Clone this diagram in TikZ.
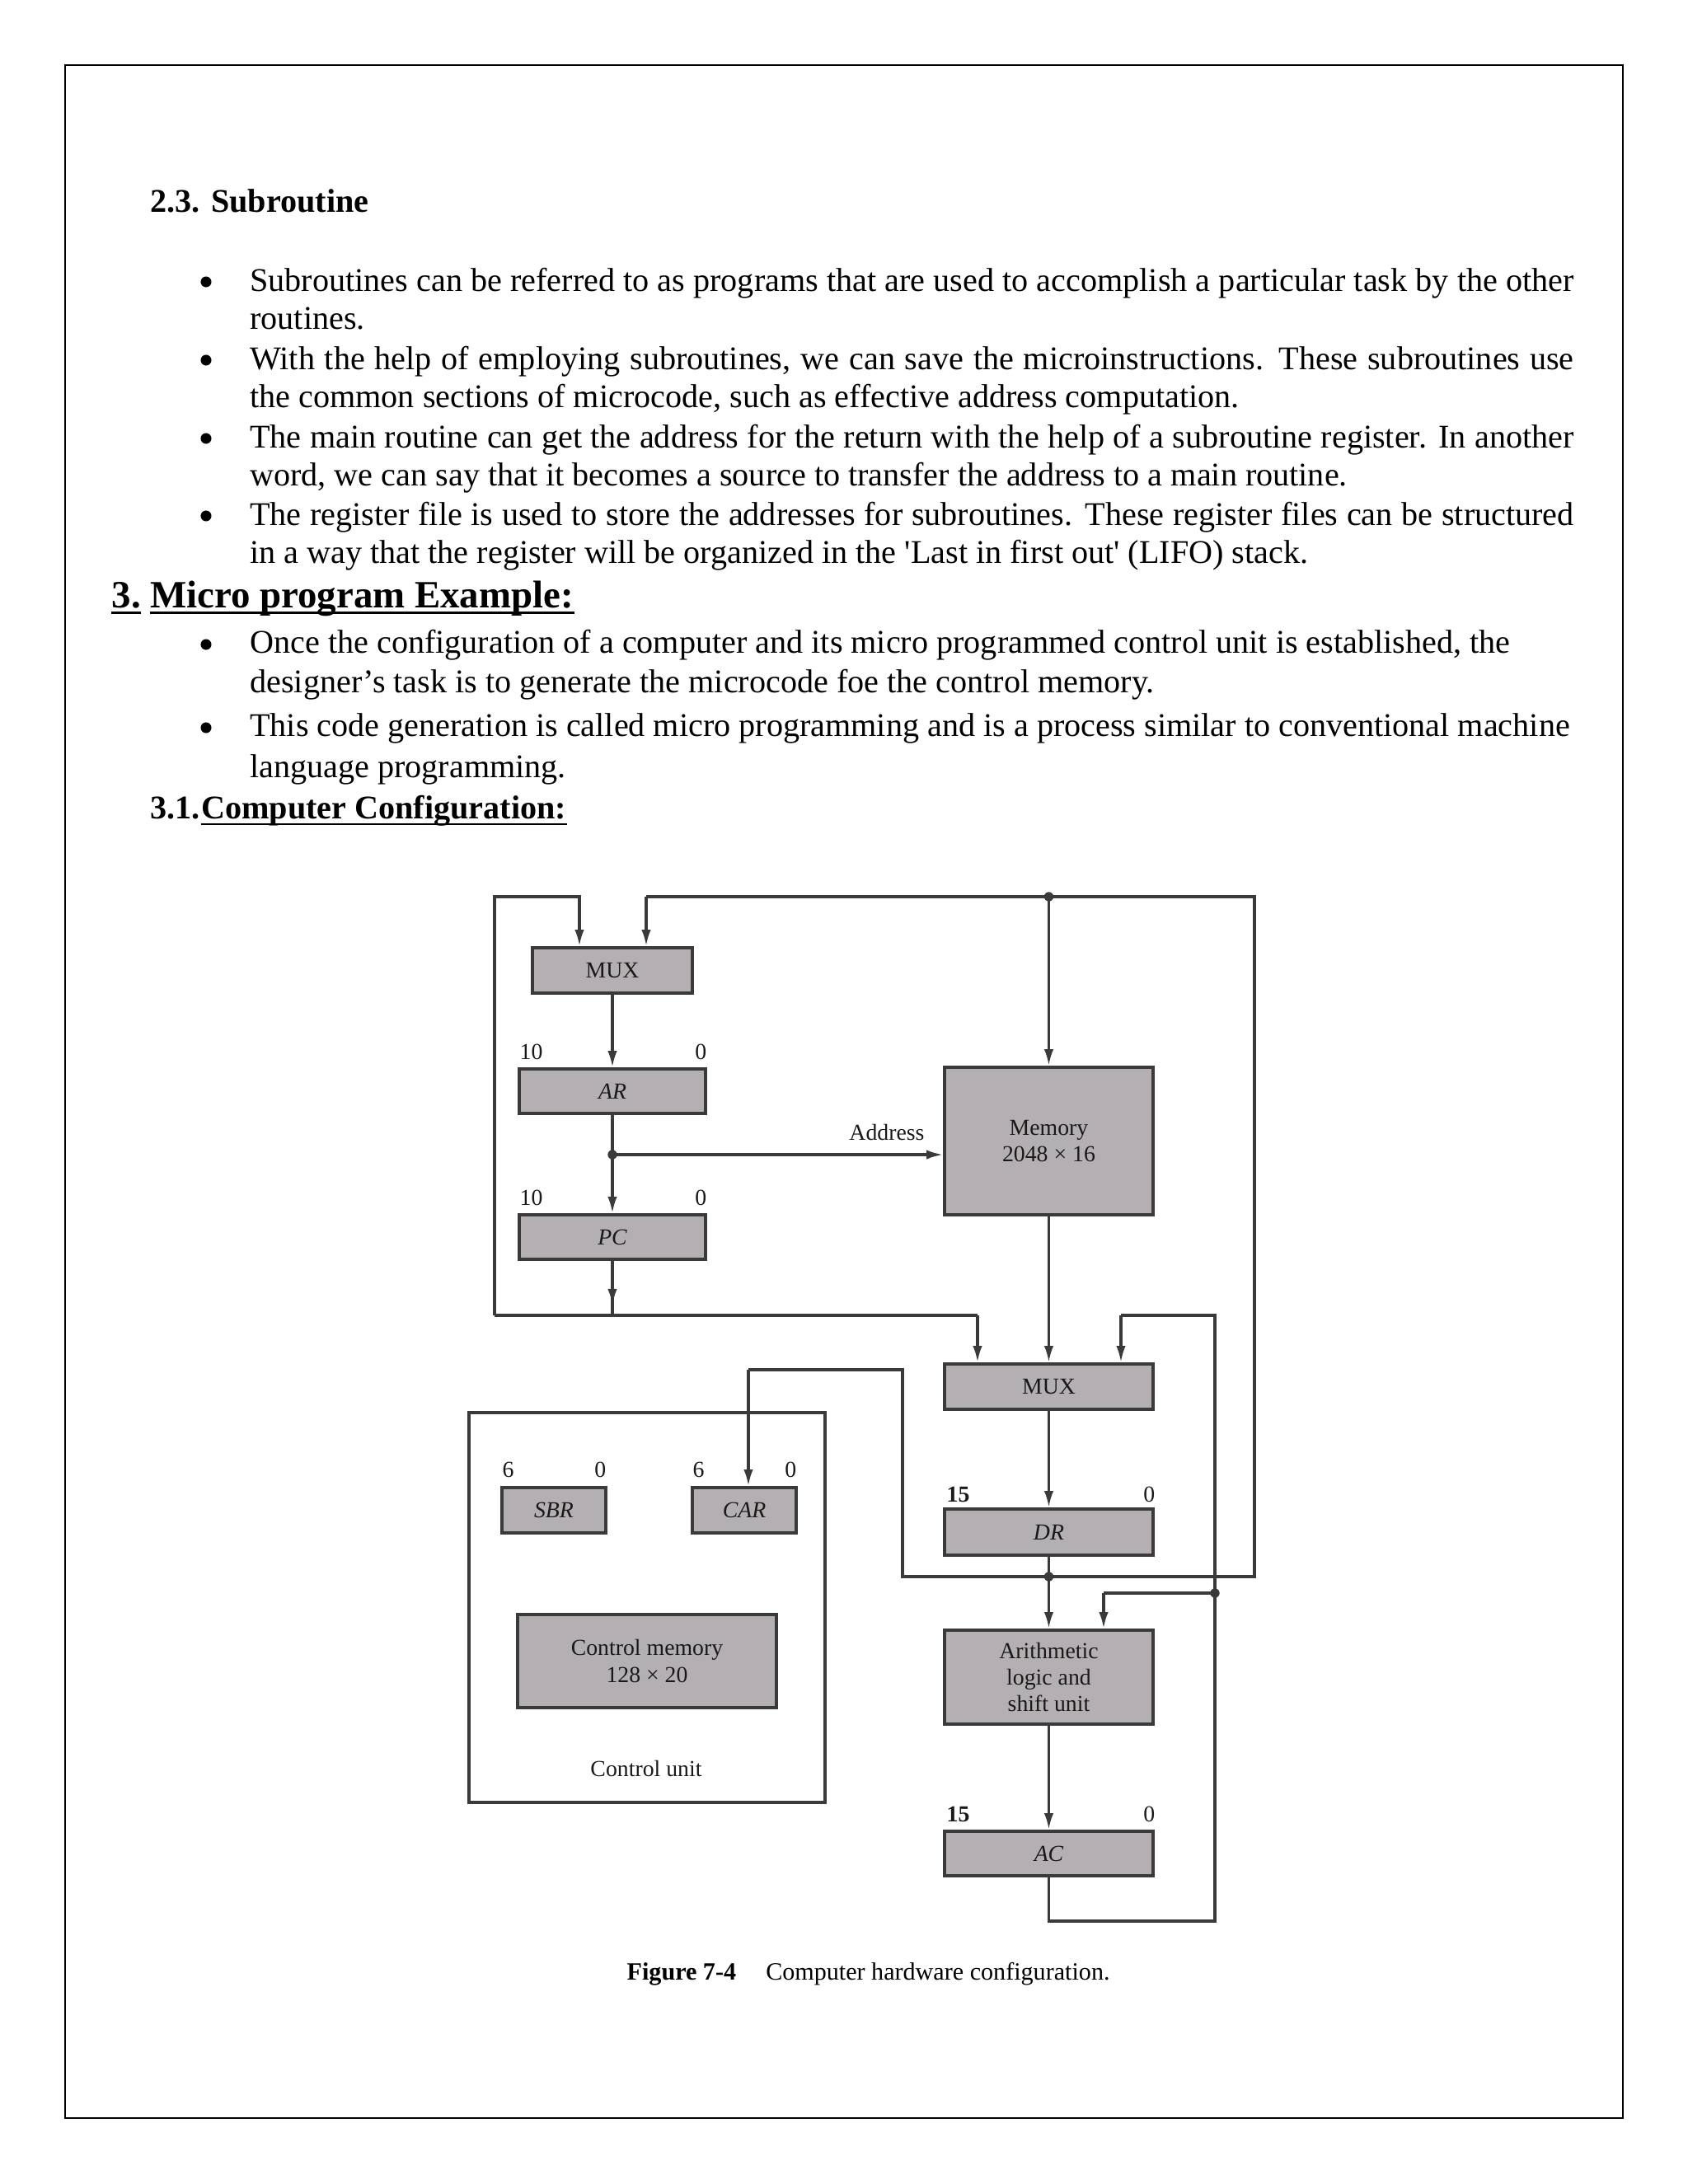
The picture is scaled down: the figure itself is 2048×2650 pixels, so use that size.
\documentclass[tikz,border=0pt]{standalone}
\usepackage{fontspec}
\setmainfont{Liberation Serif}
\usetikzlibrary{arrows.meta}
\definecolor{boxgray}{RGB}{180,175,178}
\definecolor{wire}{RGB}{58,58,58}
\begin{document}
\begin{tikzpicture}[x=0.29883pt,y=-0.29883pt,
  txt/.style={inner sep=0pt, anchor=base west, font=\fontsize{12}{14}\selectfont},
  reg/.style={draw=wire, line width=1.1pt, fill=boxgray, inner sep=0pt, font=\fontsize{8.3}{9.6}\selectfont, align=center, text=black!90},
  wireln/.style={draw=wire, line width=0.95pt},
  arr/.style={wireln, -{Latex[length=6pt,width=3.4pt]}},
  lbl/.style={inner sep=0pt, font=\fontsize{8.3}{9.6}\selectfont, text=black!90},
  jdot/.style={circle, fill=wire, inner sep=0pt, minimum size=3.4pt},
  bul/.style={circle, fill=black, inner sep=0pt, minimum size=3.9pt}
]
\fill[white] (0,0) rectangle (2048,2650);
\useasboundingbox (0,0) rectangle (2048,2650);
\draw[line width=0.7pt] (79,79) rectangle (1969,2570);

% ---------- text ----------
\node[txt, font=\fontsize{12}{14}\selectfont\bfseries] (h23) at (182,257) {2.3. Subroutine};

\node[bul] (b1) at (250,342) {};
\node[txt] (l1a) at (302.7,353) {\makebox[480pt][s]{Subroutines can be referred to as programs that are used to accomplish a particular task by the other}};
\node[txt] (l1b) at (302.7,399) {routines.};
\node[bul] (b2) at (250,437) {};
\node[txt] (l2a) at (302.7,448) {\makebox[480pt][s]{With the help of employing subroutines, we can save the microinstructions. These subroutines use}};
\node[txt] (l2b) at (302.7,494) {the common sections of microcode, such as effective address computation.};
\node[bul] (b3) at (250,532) {};
\node[txt] (l3a) at (302.7,543) {\makebox[480pt][s]{The main routine can get the address for the return with the help of a subroutine register. In another}};
\node[txt] (l3b) at (302.7,589) {word, we can say that it becomes a source to transfer the address to a main routine.};
\node[bul] (b4) at (250,626) {};
\node[txt] (l4a) at (302.7,637) {\makebox[480pt][s]{The register file is used to store the addresses for subroutines. These register files can be structured}};
\node[txt] (l4b) at (302.7,683) {in a way that the register will be organized in the \textquotesingle Last in first out\textquotesingle\ (LIFO) stack.};

\node[txt, font=\fontsize{14}{16}\selectfont\bfseries] (h3n) at (135,737) {3.};
\node[txt, font=\fontsize{14}{16}\selectfont\bfseries] (h3t) at (181.7,737) {Micro program Example:};
\draw[line width=0.8pt] ([yshift=-2pt]h3n.base west) -- ([yshift=-2pt]h3n.base east);
\draw[line width=0.8pt] ([yshift=-2pt]h3t.base west) -- ([yshift=-2pt]h3t.base east);

\node[bul] (b5) at (250,782) {};
\node[txt] (l5a) at (302.7,792) {Once the configuration of a computer and its micro programmed control unit is established, the};
\node[txt] (l5b) at (302.7,840) {designer’s task is to generate the microcode foe the control memory.};
\node[bul] (b6) at (250,883) {};
\node[txt] (l6a) at (302.7,893) {This code generation is called micro programming and is a process similar to conventional machine};
\node[txt] (l6b) at (302.7,943) {language programming.};

\node[txt, font=\fontsize{12}{14}\selectfont\bfseries] (h31n) at (182,993) {3.1.};
\node[txt, font=\fontsize{12}{14}\selectfont\bfseries] (h31t) at (h31n.base east) {Computer Configuration:};
\draw[line width=0.7pt] ([yshift=-2pt]h31t.base west) -- ([yshift=-2pt]h31t.base east);

% ---------- diagram boxes ----------
\node[reg, minimum width=57.97pt, minimum height=16.44pt] (mux1) at (743,1177.5) {MUX};
\node[reg, minimum width=67.54pt, minimum height=16.14pt] (ar) at (743,1324) {\itshape AR};
\node[reg, minimum width=67.54pt, minimum height=16.14pt] (pc) at (743,1501) {\itshape PC};
\node[reg, minimum width=75.6pt, minimum height=53.49pt] (mem) at (1272.5,1384.5) {Memory\\2048 × 16};
\node[reg, minimum width=75.6pt, minimum height=16.44pt] (mux2) at (1272.5,1682.5) {MUX};
\node[reg, minimum width=75.6pt, minimum height=16.73pt] (dr) at (1272.5,1859) {\itshape DR};
\node[reg, minimum width=75.6pt, minimum height=34.07pt] (alu) at (1272.5,2035) {Arithmetic\\logic and\\shift unit};
\node[reg, minimum width=75.6pt, minimum height=16.14pt] (ac) at (1272.5,2249) {\itshape AC};
\node[draw=wire, line width=1.0pt, inner sep=0pt, minimum width=129.1pt, minimum height=141.35pt] (cu) at (785,1950.5) {};
\node[reg, minimum width=37.65pt, minimum height=16.44pt] (sbr) at (672,1832.5) {\itshape SBR};
\node[reg, minimum width=37.65pt, minimum height=16.44pt] (car) at (903,1832.5) {\itshape CAR};
\node[reg, minimum width=93.83pt, minimum height=33.77pt] (cm) at (785,2015.5) {Control memory\\128 × 20};
\node[lbl] (cul) at (784,2146) {Control unit};

% bit labels
\node[lbl, anchor=base west] (ar10) at (630,1285) {10};
\node[lbl, anchor=base east] (ar0) at (858,1285) {0};
\node[lbl, anchor=base west] (pc10) at (630,1462) {10};
\node[lbl, anchor=base east] (pc0) at (858,1462) {0};
\node[lbl, anchor=base west] (sbr6) at (609,1792) {6};
\node[lbl, anchor=base east] (sbr0) at (736,1792) {0};
\node[lbl, anchor=base west] (car6) at (840,1792) {6};
\node[lbl, anchor=base east] (car0) at (967,1792) {0};
\node[lbl, anchor=base west, font=\fontsize{8.3}{9.6}\selectfont\bfseries] (dr15) at (1148,1822) {15};
\node[lbl, anchor=base east] (dr0) at (1402,1822) {0};
\node[lbl, anchor=base west, font=\fontsize{8.3}{9.6}\selectfont\bfseries] (ac15) at (1148,2210) {15};
\node[lbl, anchor=base east] (ac0) at (1402,2210) {0};
\node[lbl, anchor=base] (addr) at (1076,1383) {Address};

% ---------- coordinates ----------
\coordinate (tl) at (600,1088);
\coordinate (t1) at (703,1088);
\coordinate (t2) at (784,1088);
\coordinate (tr) at (1522,1088);
\coordinate (bl) at (600,1596);
\coordinate (bm) at (1186,1596);
\coordinate (pcb) at (743,1596);
\coordinate (pca) at (743,1584);
\coordinate (rj) at (1522,1913);
\coordinate (cl) at (1095,1913);
\coordinate (cu1) at (1095,1662);
\coordinate (cu2) at (908,1662);
\coordinate (acb) at (1272.5,2331);
\coordinate (acr) at (1474,2331);
\coordinate (rt) at (1474,1596);
\coordinate (rm) at (1360,1596);
\coordinate (alj) at (1339,1933);

\node[jdot] (jt) at (1272.5,1088) {};
\node[jdot] (ja) at (743,1401) {};
\node[jdot] (jd) at (1272.5,1913) {};
\node[jdot] (jr) at (1474,1933) {};

% ---------- wires ----------
\draw[arr] (bl) -- (tl) -- (t1) -- (t1 |- mux1.north);
\draw[wireln] (t2) -- (tr) -- (rj) -- (cl) -- (cu1) -- (cu2);
\draw[arr] (t2) -- (t2 |- mux1.north);
\draw[arr] (cu2) -- (cu2 |- car.north);
\draw[arr] (jt.center) -- (mem.north);
\draw[arr] (mux1.south) -- (ar.north);
\draw[arr] (ar.south) -- (pc.north);
\draw[arr] (ja.center) -- (ja.center -| mem.west);
\draw[wireln] (pc.south) -- (pcb);
\draw[arr] (pc.south) -- (pca);
\draw[wireln] (bl) -- (bm);
\draw[arr] (bm) -- (bm |- mux2.north);
\draw[arr] (mem.south) -- (mux2.north);
\draw[arr] (mux2.south) -- (dr.north);
\draw[arr] (dr.south) -- (alu.north);
\draw[arr] (alu.south) -- (ac.north);
\draw[wireln] (ac.south) -- (acb) -- (acr) -- (rt) -- (rm);
\draw[arr] (rm) -- (rm |- mux2.north);
\draw[wireln] (jr.center) -- (alj);
\draw[arr] (alj) -- (alj |- alu.north);

% caption
\node[inner sep=0pt, anchor=base west, font=\fontsize{9}{10.5}\selectfont] (cap) at (760,2402) {{\bfseries Figure 7-4}\hspace{1.2em}Computer hardware configuration.};
\end{tikzpicture}
\end{document}
